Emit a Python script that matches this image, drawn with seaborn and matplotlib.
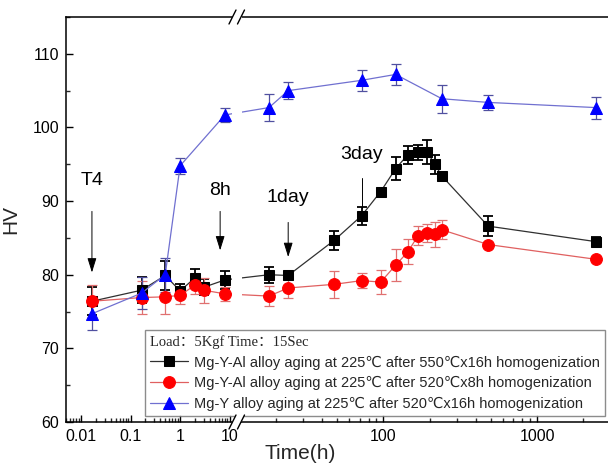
import numpy as np
import pandas as pd
import matplotlib
matplotlib.use("Agg")
import matplotlib.pyplot as plt
import seaborn as sns
from matplotlib.ticker import FixedLocator, FixedFormatter, MultipleLocator
from matplotlib.lines import Line2D
from matplotlib.patches import Polygon

# ---------------- data ----------------
black_t = [1/60, 1/6, 0.5, 1, 2, 3, 8, 18, 24, 48, 72, 96, 120, 144, 168, 192, 216, 240, 480, 2400]
black_hv = [76.4, 77.9, 79.9, 77.8, 79.6, 78.3, 79.3, 80.0, 79.9, 84.7, 88.0, 91.3, 94.4, 96.3, 96.6, 96.7, 95.0, 93.4, 86.6, 84.5]
black_err = [1.9, 1.8, 2.0, 0.9, 1.2, 1.1, 1.2, 1.1, 0.5, 1.3, 1.2, 0.3, 1.6, 1.2, 1.0, 1.6, 1.3, 0.6, 1.4, 0.6]

red_t = [1/60, 1/6, 0.5, 1, 2, 3, 8, 18, 24, 48, 72, 96, 120, 144, 168, 192, 216, 240, 480, 2400]
red_hv = [76.4, 76.9, 77.0, 77.2, 78.6, 77.9, 77.4, 77.1, 78.2, 78.7, 79.2, 79.0, 81.3, 83.1, 85.3, 85.7, 85.5, 86.1, 84.1, 82.1]
red_err = [2.2, 2.2, 2.4, 1.2, 1.2, 1.7, 1.0, 1.4, 1.4, 1.8, 1.0, 1.6, 2.2, 1.7, 1.3, 1.2, 1.7, 1.3, 0.0, 0.0]

blue_t = [1/60, 1/6, 0.5, 1, 8, 18, 24, 72, 120, 240, 480, 2400]
blue_hv = [74.7, 77.5, 80.0, 94.8, 101.7, 102.7, 105.0, 106.4, 107.2, 103.9, 103.4, 102.7]
blue_err = [2.2, 2.2, 2.3, 1.1, 1.0, 1.8, 1.2, 1.4, 1.4, 1.9, 1.0, 1.5]

labels = [
    "Mg-Y-Al alloy aging at 225\u2103 after 550\u2103x16h homogenization",
    "Mg-Y-Al alloy aging at 225\u2103 after 520\u2103x8h homogenization",
    "Mg-Y alloy aging at 225\u2103 after 520\u2103x16h homogenization",
]
legend_title = "Load\uff1a5Kgf Time\uff1a15Sec"

x_major = [0.01, 0.1, 1, 10, 100, 1000]
x_major_labels = ["0.01", "0.1", "1", "10", "100", "1000"]

annots = [("T4", 1/60, 91.7, 88.6, 80.3, True),
          ("8h", 6.4, 90.3, 88.6, 83.3, True),
          ("1day", 24, 89.4, 87.1, 82.4, True),
          ("3day", 72, 95.2, 93.2, 89.1, False)]

# ---------------- style ----------------
sns.set_theme(style="ticks")
plt.rcParams['font.family'] = ['Liberation Sans', 'DejaVu Sans', 'Noto Sans CJK SC']

W, H = 608, 466
fig = plt.figure(figsize=(W / 100, H / 100), dpi=100)
ax = fig.add_axes([66 / W, (H - 422) / H, (W - 66) / W, (422 - 17) / H])

series = [
    (black_t, black_hv, black_err, labels[0], 's', 7, '#000000', '#303030', '#000000', 1.3),
    (red_t, red_hv, red_err, labels[1], 'o', 8.5, '#ff0000', '#e06060', '#e07070', 0.9),
    (blue_t, blue_hv, blue_err, labels[2], '^', 8.5, '#0000ff', '#7070d0', '#5050a0', 0.9),
]

for t, hv, err, lab, mk, ms, mc, lc, ec, elw in series:
    df = pd.DataFrame({"t": t, "hv": hv})
    sns.lineplot(data=df, x="t", y="hv", ax=ax, color=lc, lw=0.9, marker=mk,
                 markersize=ms, markerfacecolor=mc, markeredgecolor=mc,
                 estimator=None, sort=False, label=lab, zorder=3)
    ax.errorbar(t, hv, yerr=err, fmt='none', ecolor=ec, elinewidth=elw,
                capsize=3.5, capthick=elw, zorder=2.8)

# piecewise log scale with break at 10
K = 154 / 49.7


def fwd(x):
    x = np.asarray(x, dtype=float)
    u = np.log10(np.clip(x, 1e-12, None))
    return np.where(u <= 1, u, 1 + (u - 1) * K)


def inv(f):
    f = np.asarray(f, dtype=float)
    return np.where(f <= 1, 10 ** f, 10 ** (1 + (f - 1) / K))


ax.set_xscale('function', functions=(fwd, inv))
ax.set_xlim(0.005, 2890)
ax.set_ylim(60, 115)

minors = []
for dec in [0.001, 0.01, 0.1, 1, 10, 100, 1000]:
    for m in range(2, 10):
        v = dec * m
        if 0.005 <= v <= 2890 and not (10 < v < 20):
            minors.append(v)
ax.xaxis.set_major_locator(FixedLocator(x_major))
ax.xaxis.set_major_formatter(FixedFormatter(x_major_labels))
ax.xaxis.set_minor_locator(FixedLocator(minors))
ax.yaxis.set_major_locator(MultipleLocator(10))
ax.yaxis.set_minor_locator(MultipleLocator(5))
ax.set_yticks([60, 70, 80, 90, 100, 110])
ax.tick_params(which='major', direction='in', length=5, width=1, labelsize=11.5,
               colors='black', top=False, right=False, pad=5)
ax.tick_params(which='minor', direction='in', length=3, width=1, top=False, right=False)

for s in ['left', 'bottom', 'top']:
    ax.spines[s].set_linewidth(1.1)
    ax.spines[s].set_color('black')
ax.spines['right'].set_visible(False)

ax.set_xlabel("Time(h)", fontsize=15)
ax.set_ylabel("HV", fontsize=15)
ax.xaxis.set_label_coords((300 - 66) / (W - 66), -0.055)
ax.xaxis.label.set_va('top')
ax.yaxis.set_label_coords(-0.085, 0.5)

# gap in lines at break
ax.axvspan(10.4, 12.1, color='white', zorder=3.5, lw=0)

# annotations
for txt, x, ty, y0, y1, head in annots:
    ax.text(x, ty, txt, ha='center', va='bottom', fontsize=14, color='black', zorder=5)
    if head:
        ax.annotate('', xy=(x, y1), xytext=(x, y0),
                    arrowprops=dict(arrowstyle='-|>,head_width=0.25,head_length=0.8', color='black', lw=0.7,
                                    mutation_scale=11, shrinkA=0, shrinkB=0), zorder=5)
    else:
        ax.plot([x, x], [y0, y1], color='black', lw=0.7, zorder=5)

# legend
leg = ax.legend(loc='upper left', bbox_to_anchor=((145 - 66) / (W - 66), (422 - 330) / (422 - 17)),
                borderaxespad=0, fontsize=10.5, title=legend_title,
                title_fontproperties={'family': ['Liberation Serif', 'Noto Sans CJK SC'], 'size': 10.5},
                alignment='left', frameon=True, fancybox=False, edgecolor='#707070',
                handlelength=2.6, handletextpad=0.4, labelspacing=0.45, borderpad=0.35)
leg.get_frame().set_linewidth(1.0)
leg.set_zorder(6)


# break marks
def px(x, y):
    return (x / W, (H - y) / H)


for yc in (17, 422):
    x1, x2 = 232.5, 241
    dx, dy = 3.5, 7
    poly = Polygon([px(x1 - dx, yc + dy), px(x2 - dx, yc + dy), px(x2 + dx, yc - dy), px(x1 + dx, yc - dy)],
                   closed=True, transform=fig.transFigure, facecolor='white', edgecolor='none', zorder=10)
    fig.add_artist(poly)
    for xc in (x1, x2):
        a, b = px(xc - dx, yc + dy), px(xc + dx, yc - dy)
        fig.add_artist(Line2D([a[0], b[0]], [a[1], b[1]], transform=fig.transFigure,
                              color='black', lw=1.0, zorder=11))

fig.savefig("out.png", dpi=100)
